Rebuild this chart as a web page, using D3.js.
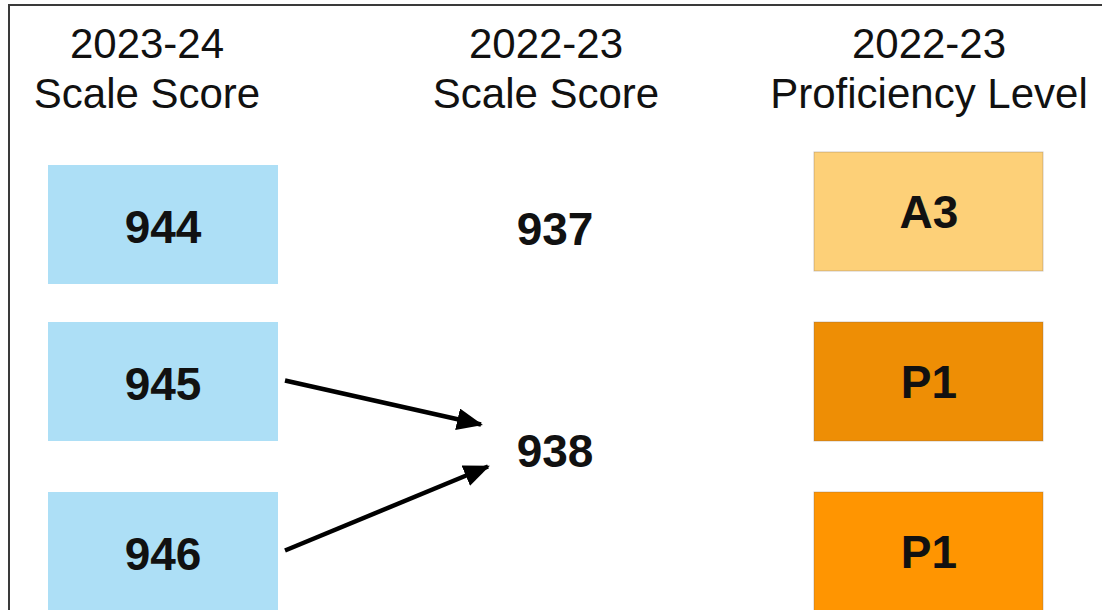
<!DOCTYPE html>
<html lang="en">
<head>
    <meta charset="UTF-8">
    <title>Scale score comparison</title>
    <style>
        body { margin: 0; background: #fff; }
        svg { display: block; font-family: "Liberation Sans", Arial, sans-serif; }
    </style>
</head>
<body>

    <svg class="chart"></svg>

    <script src="https://cdnjs.cloudflare.com/ajax/libs/d3/7.8.5/d3.min.js"></script>
    <script>

    // data
    const columns = ['cur', 'prev', 'level'];
    const headerYears = ['2023-24', '2022-23', '2022-23'];
    const headerNames = ['Scale Score', 'Scale Score', 'Proficiency Level'];

    const rows = [0, 1, 2];
    const currScores = [944, 945, 946];
    const prevScores = [937, 938];
    const prevLevels = ['A3', 'P1', 'P1'];
    // which 2022-23 score each 2023-24 row maps to (arrows drawn for the shared one)
    const scoreLink = [0, 1, 1];

    const levelColors = ['#fdd078', '#ee8e05', '#ff9501'];

    const width = 1102,
          height = 610;

    const svg = d3.select('.chart')
                    .attr('width', width)
                    .attr('height', height);

    // frame (only top and left edges show in the crop)
    svg.append('rect')
        .attr('x', 9).attr('y', 5)
        .attr('width', 1300).attr('height', 800)
        .attr('fill', 'none')
        .attr('stroke', '#3a3a3a')
        .attr('stroke-width', 2);

    // column centres
    const xScale = d3.scalePoint()
                    .domain(columns)
                    .range([163, 929]);

    // rows
    const yScale = d3.scaleBand()
                    .domain(rows)
                    .range([152, 611])
                    .paddingInner(0.3);

    const boxW = 230;
    const boxH = yScale.bandwidth();
    const rowMid = r => yScale(r) + boxH / 2;
    // first 2023-24 box sits a little lower than the others in the original
    const curTop = r => yScale(r) + (r === 0 ? 13 : 0);

    // headers (first one is a bit left of its boxes)
    const headerShift = [-16, 0, 0];
    const headers = svg.append('g').attr('class', 'headers');
    columns.forEach((c, i) => {
        const t = headers.append('text')
            .attr('text-anchor', 'middle')
            .attr('font-size', 42)
            .attr('fill', '#111');
        t.append('tspan').attr('x', xScale(c) + headerShift[i]).attr('y', 58).text(headerYears[i]);
        t.append('tspan').attr('x', xScale(c) + headerShift[i]).attr('y', 108).text(headerNames[i]);
    });

    // 2023-24 boxes
    const cur = svg.append('g').attr('class', 'cur');
    cur.selectAll('rect')
        .data(currScores)
        .enter().append('rect')
        .attr('x', xScale('cur') - boxW / 2)
        .attr('y', (d, i) => curTop(rows[i]))
        .attr('width', boxW)
        .attr('height', boxH)
        .attr('fill', '#addff6');

    cur.selectAll('text')
        .data(currScores)
        .enter().append('text')
        .attr('x', xScale('cur'))
        .attr('y', (d, i) => curTop(rows[i]) + boxH / 2 + 2)
        .attr('dy', '0.36em')
        .attr('text-anchor', 'middle')
        .attr('font-size', 46)
        .attr('font-weight', 'bold')
        .attr('fill', '#111')
        .text(d => d);

    // 2022-23 scores: placed at the mean row of the 2023-24 rows that map to them
    const prevY = prevScores.map((d, j) => {
        const src = rows.filter(r => scoreLink[r] === j);
        return d3.mean(src, rowMid);
    });

    const prev = svg.append('g').attr('class', 'prev');
    prev.selectAll('text')
        .data(prevScores)
        .enter().append('text')
        .attr('x', xScale('prev') + 9)
        .attr('y', (d, j) => prevY[j] - (j === 1 ? 16 : -17))
        .attr('dy', '0.36em')
        .attr('text-anchor', 'middle')
        .attr('font-size', 46)
        .attr('font-weight', 'bold')
        .attr('fill', '#111')
        .text(d => d);

    // arrows
    svg.append('defs').append('marker')
        .attr('id', 'head')
        .attr('markerUnits', 'userSpaceOnUse')
        .attr('viewBox', '0 0 26 22')
        .attr('refX', 24).attr('refY', 11)
        .attr('markerWidth', 26).attr('markerHeight', 22)
        .attr('orient', 'auto')
        .append('path')
        .attr('d', 'M0,0 L26,11 L0,22 Z')
        .attr('fill', '#000');

    const links = rows.filter(r => rows.filter(q => scoreLink[q] === scoreLink[r]).length > 1);
    const arrowEndX = xScale('prev') - 60;

    svg.append('g').attr('class', 'arrows')
        .selectAll('line')
        .data(links)
        .enter().append('line')
        .attr('x1', xScale('cur') + boxW / 2 + 7)
        .attr('y1', r => rowMid(r) - 1)
        .attr('x2', (r, k) => arrowEndX + (k === 0 ? -5 : 2))
        .attr('y2', (r, k) => prevY[scoreLink[r]] - 16 + (k === 0 ? -26 : 16))
        .attr('stroke', '#000')
        .attr('stroke-width', 4.5)
        .attr('marker-end', 'url(#head)');

    // 2022-23 proficiency levels
    const lev = svg.append('g').attr('class', 'levels');
    lev.selectAll('rect')
        .data(prevLevels)
        .enter().append('rect')
        .attr('x', xScale('level') - boxW / 2)
        .attr('y', (d, i) => yScale(rows[i]))
        .attr('width', boxW - 1)
        .attr('height', boxH)
        .attr('fill', (d, i) => levelColors[i])
        .attr('stroke', 'rgba(120,100,80,0.35)')
        .attr('stroke-width', 1);

    lev.selectAll('text')
        .data(prevLevels)
        .enter().append('text')
        .attr('x', xScale('level'))
        .attr('y', (d, i) => rowMid(rows[i]))
        .attr('dy', '0.36em')
        .attr('text-anchor', 'middle')
        .attr('font-size', 46)
        .attr('font-weight', 'bold')
        .attr('fill', '#111')
        .text(d => d);

    </script>
</body>
</html>
